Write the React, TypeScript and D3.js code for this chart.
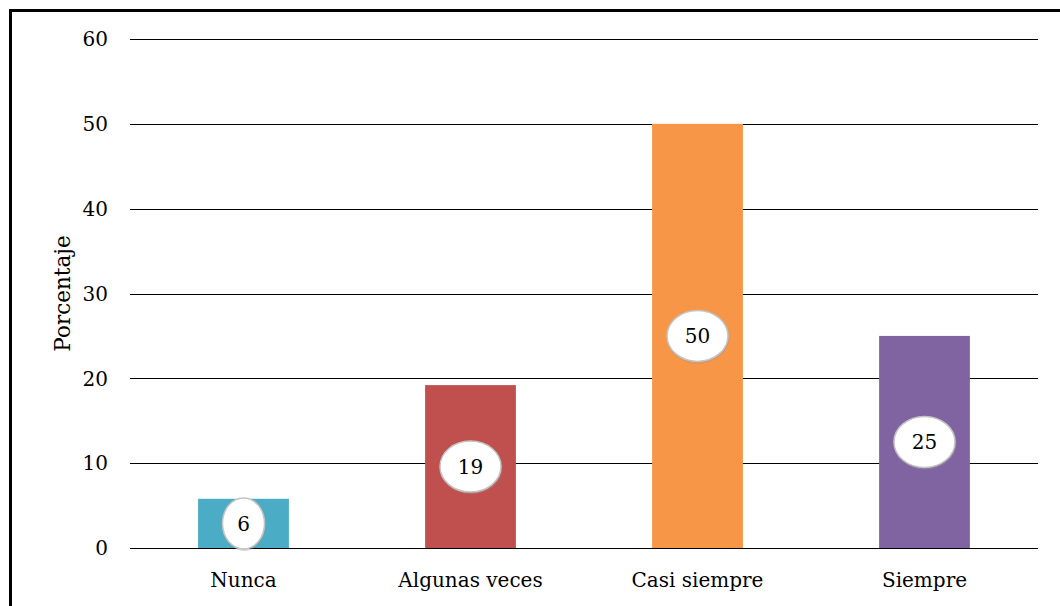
import React from "react";
import * as d3 from "d3";

const categories = ["Nunca", "Algunas veces", "Casi siempre", "Siempre"];
const values = [5.8, 19.2, 50, 25];
const colors = ["#4bacc6", "#c0504d", "#f79646", "#8064a2"];
const yTicks = [0, 10, 20, 30, 40, 50, 60];
const yTitle = "Porcentaje";

const W = 1060;
const H = 606;
const FONT = "'DejaVu Serif', serif";

export default function App() {
  const left = 130, right = 1038, top = 39, bottom = 548;
  const x = d3.scaleBand<string>().domain(categories).range([left, right]).padding(0);
  const y = d3.scaleLinear().domain([0, 60]).range([bottom, top]);
  const barW = x.bandwidth() * 0.4;

  return (
    <svg width={W} height={H} style={{ position: "absolute", left: 0, top: 0 }}>
      <rect x={0} y={0} width={W} height={H} fill="#fff" />
      <rect x={10.5} y={10.5} width={W + 20} height={H + 20} fill="none" stroke="#000" strokeWidth={3} />
      {yTicks.map((t) => (
        <g key={t}>
          <line x1={left} x2={right} y1={Math.round(y(t)) + 0.5} y2={Math.round(y(t)) + 0.5} stroke="#000" strokeWidth={1} />
          <text x={108} y={y(t)} dy="0.36em" textAnchor="end" fontFamily={FONT} fontSize={20} fill="#000">
            {t}
          </text>
        </g>
      ))}
      {categories.map((c, i) => {
        const cx = (x(c) as number) + x.bandwidth() / 2;
        return (
          <rect key={c} x={cx - barW / 2} y={y(values[i])} width={barW} height={y(0) - y(values[i])} fill={colors[i]} />
        );
      })}
      <line x1={left} x2={right} y1={Math.round(y(0)) + 0.5} y2={Math.round(y(0)) + 0.5} stroke="#000" strokeWidth={1} />
      {categories.map((c, i) => {
        const cx = (x(c) as number) + x.bandwidth() / 2;
        const cy = y(values[i] / 2);
        const label = String(Math.round(values[i]));
        const rx = label.length === 1 ? 21 : 30.5;
        return (
          <g key={c + "l"}>
            <ellipse cx={cx + 0.5} cy={cy + 1} rx={rx} ry={25.5} fill="none" stroke="#999" strokeOpacity={0.4} strokeWidth={2} />
            <ellipse cx={cx} cy={cy} rx={rx} ry={25.5} fill="#fff" stroke="#c4c4c4" strokeWidth={1.5} />
            <text x={cx} y={cy} dy="0.36em" textAnchor="middle" fontFamily={FONT} fontSize={20} fill="#000">
              {label}
            </text>
          </g>
        );
      })}
      {categories.map((c) => {
        const cx = (x(c) as number) + x.bandwidth() / 2;
        return (
          <text key={c + "x"} x={cx} y={587} textAnchor="middle" fontFamily={FONT} fontSize={20} fill="#000">
            {c}
          </text>
        );
      })}
      <text
        transform={`translate(70, ${(top + bottom) / 2}) rotate(-90)`}
        textAnchor="middle"
        fontFamily={FONT}
        fontSize={21.5}
        fill="#000"
      >
        {yTitle}
      </text>
    </svg>
  );
}
